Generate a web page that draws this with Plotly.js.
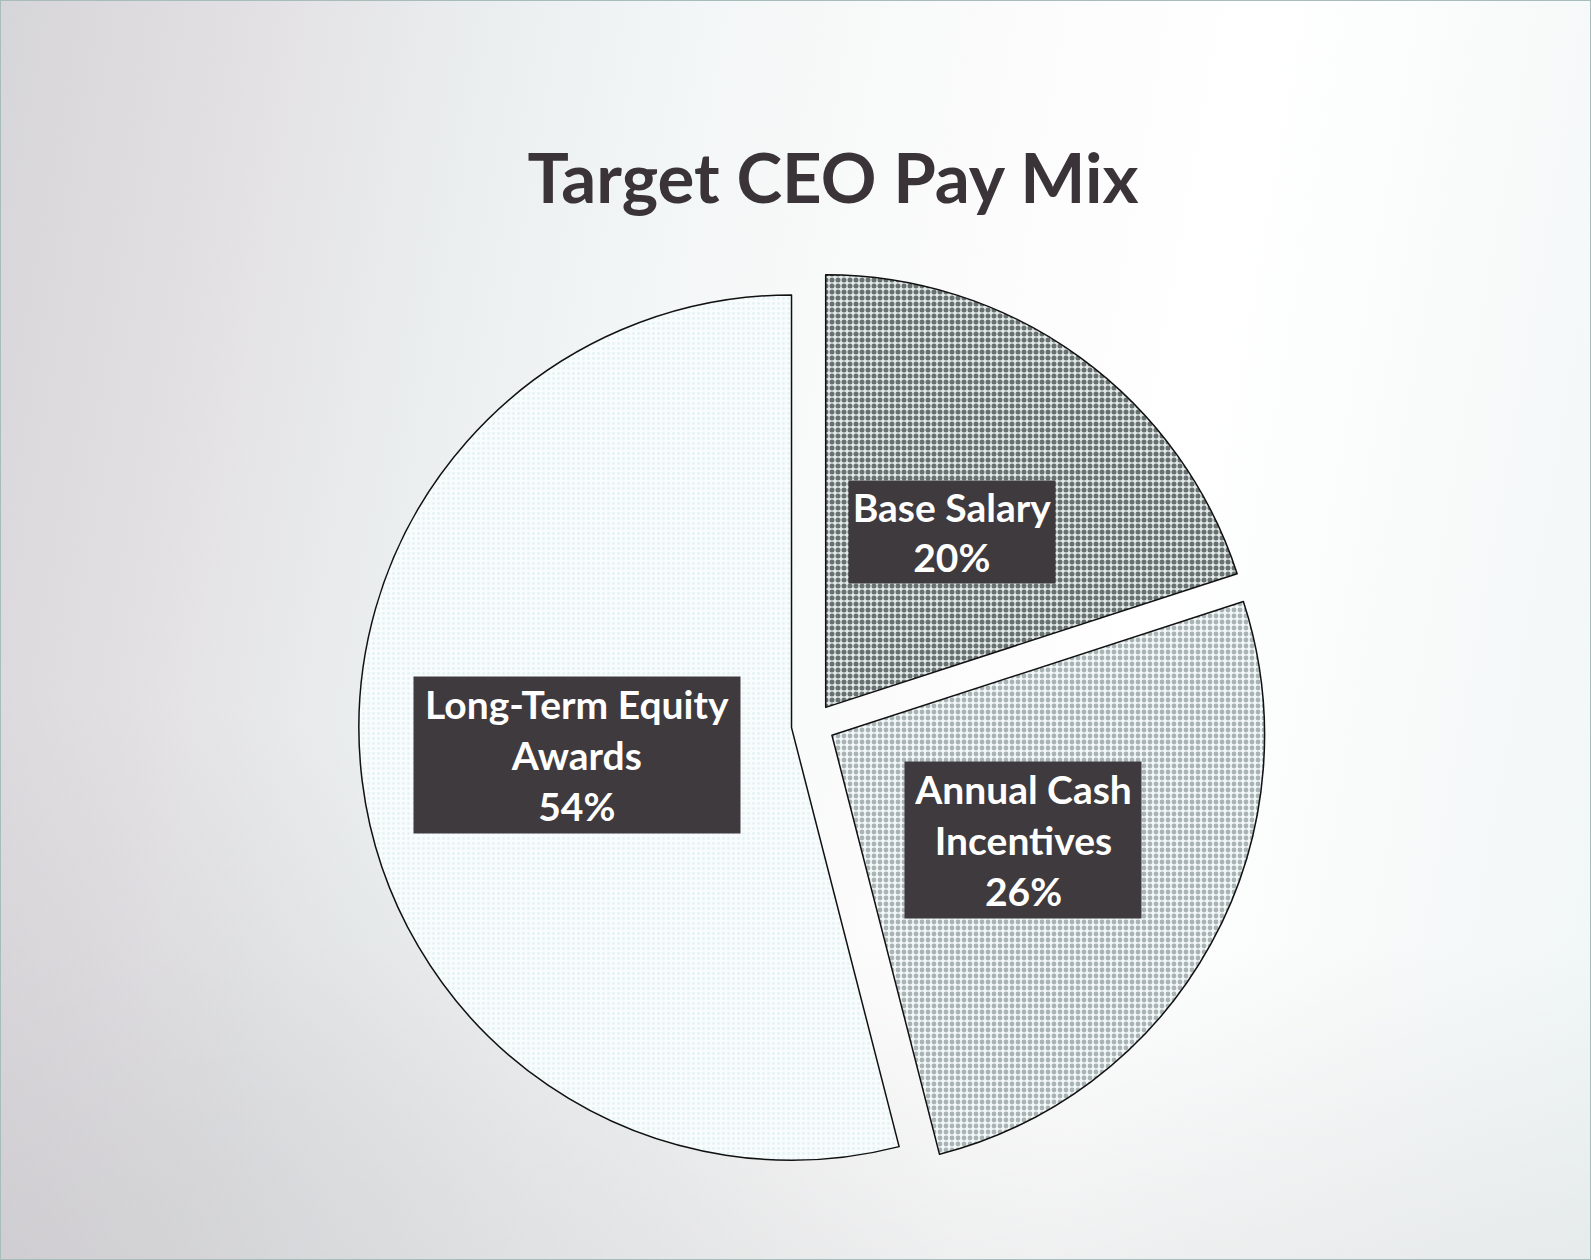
<!DOCTYPE html>
<html>
<head>
<meta charset="utf-8">
<script src="https://cdn.plot.ly/plotly-3.0.1.min.js"></script>
<style>
  html, body { margin: 0; padding: 0; }
  #wrap {
    width: 1589px; height: 1258px; border: 1px solid #a9bcbc;
    background:
      radial-gradient(ellipse 60% 45% at 0% 100%, rgba(196,194,198,0.55) 0%, rgba(196,194,198,0) 100%),
      linear-gradient(180deg, rgba(255,255,255,0) 0%, rgba(255,255,255,0) 75%, rgba(210,212,214,0.35) 100%),
      linear-gradient(100deg, #d6d5d8 0%, #e3e0e3 14%, #ebefef 28%, #f4f7f7 40%, #fbfbfb 55%, #ffffff 70%, #f8fafa 85%, #f0f6f6 100%);
  }
  #chart { width: 1589px; height: 1258px; }
</style>
</head>
<body>
<div id="wrap"><div id="chart"></div></div>
<script>
const categories = ['Base Salary', 'Annual Cash Incentives', 'Long-Term Equity Awards'];
const labelText  = ['Base Salary', 'Annual Cash<br>Incentives', 'Long-Term Equity<br>Awards'];
const values     = [20, 26, 54];
const chartTitle = 'Target CEO Pay Mix';

const trace = {
  type: 'pie',
  labels: categories,
  values: values,
  sort: false,
  direction: 'clockwise',
  rotation: 0,
  pull: [0.05, 0.05, 0.05],
  textinfo: 'none',
  hoverinfo: 'label+percent',
  showlegend: false,
  domain: { x: [0.071, 0.951], y: [0.0635, 0.7857] },
  marker: {
    colors: ['#8e9494', '#cfd6d6', '#f6fbfb'],
    line: { color: '#111111', width: 1.5 },
    pattern: {
      shape: ['.', '.', '.'],
      bgcolor: ['#e4eaea', '#f2f7f7', '#f8fcfc'],
      fgcolor: ['#687070', '#aab4b4', '#e6f3f3'],
      size: [6, 6, 5],
      solidity: [0.55, 0.5, 0.25],
      fillmode: 'replace'
    }
  }
};

const boxCenters = [[951, 531], [1022, 839], [576, 754]];
const boxSizes   = [[206, 102], [236, 156], [326, 156]];
const annotations = categories.map((c, i) => ({
  xref: 'paper', yref: 'paper',
  x: boxCenters[i][0] / 1589, y: 1 - boxCenters[i][1] / 1258,
  xanchor: 'center', yanchor: 'middle',
  text: labelText[i] + '<br>' + values[i] + '%',
  showarrow: false,
  align: 'center', valign: 'middle',
  width: boxSizes[i][0], height: boxSizes[i][1],
  bgcolor: '#3f3a3d', borderpad: 0,
  font: { family: 'Lato, "Open Sans", sans-serif', size: 39, color: '#ffffff', weight: 'bold' }
}));

const layout = {
  width: 1589, height: 1258,
  margin: { l: 0, r: 0, t: 0, b: 0 },
  paper_bgcolor: 'rgba(0,0,0,0)',
  plot_bgcolor: 'rgba(0,0,0,0)',
  title: {
    text: chartTitle,
    x: 832 / 1589, xanchor: 'center',
    y: 1 - 178 / 1258, yanchor: 'middle',
    font: { family: 'Lato, "Open Sans", sans-serif', size: 69, color: '#3a3438', weight: 'bold' }
  },
  annotations: annotations
};

Plotly.newPlot('chart', [trace], layout, { displayModeBar: false, staticPlot: true });
</script>
</body>
</html>
